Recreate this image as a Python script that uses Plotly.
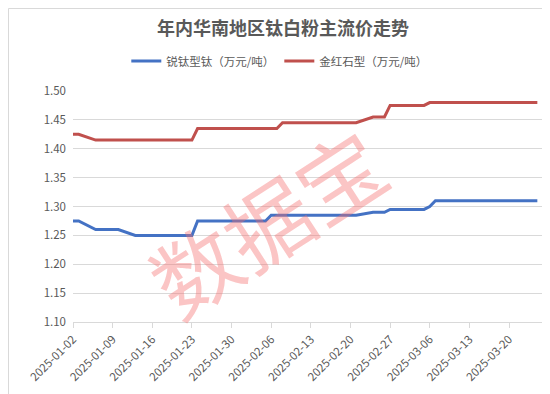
import plotly.graph_objects as go

dates = [
    "2025-01-02", "2025-01-03", "2025-01-06", "2025-01-07", "2025-01-08", "2025-01-09", "2025-01-10",
    "2025-01-13", "2025-01-14", "2025-01-15", "2025-01-16", "2025-01-17",
    "2025-01-20", "2025-01-21", "2025-01-22", "2025-01-23", "2025-01-24", "2025-01-26", "2025-01-27",
    "2025-02-05", "2025-02-06", "2025-02-07", "2025-02-08",
    "2025-02-10", "2025-02-11", "2025-02-12", "2025-02-13", "2025-02-14",
    "2025-02-17", "2025-02-18", "2025-02-19", "2025-02-20", "2025-02-21",
    "2025-02-24", "2025-02-25", "2025-02-26", "2025-02-27", "2025-02-28",
    "2025-03-03", "2025-03-04", "2025-03-05", "2025-03-06", "2025-03-07",
    "2025-03-10", "2025-03-11", "2025-03-12", "2025-03-13", "2025-03-14",
    "2025-03-17", "2025-03-18", "2025-03-19", "2025-03-20", "2025-03-21",
    "2025-03-24", "2025-03-25",
]

anatase = [
    1.275, 1.275, 1.26, 1.26, 1.26, 1.26, 1.26,
    1.25, 1.25, 1.25, 1.25, 1.25,
    1.25, 1.25, 1.25, 1.25, 1.275, 1.275, 1.275,
    1.275, 1.285, 1.285, 1.285,
    1.285, 1.285, 1.285, 1.285, 1.285,
    1.285, 1.285, 1.285, 1.285, 1.285,
    1.29, 1.29, 1.29, 1.295, 1.295,
    1.295, 1.295, 1.295, 1.30, 1.31,
    1.31, 1.31, 1.31, 1.31, 1.31,
    1.31, 1.31, 1.31, 1.31, 1.31,
    1.31, 1.31,
]

rutile = [
    1.425, 1.425, 1.415, 1.415, 1.415, 1.415, 1.415,
    1.415, 1.415, 1.415, 1.415, 1.415,
    1.415, 1.415, 1.415, 1.415, 1.435, 1.435, 1.435,
    1.435, 1.435, 1.435, 1.445,
    1.445, 1.445, 1.445, 1.445, 1.445,
    1.445, 1.445, 1.445, 1.445, 1.445,
    1.455, 1.455, 1.455, 1.475, 1.475,
    1.475, 1.475, 1.475, 1.48, 1.48,
    1.48, 1.48, 1.48, 1.48, 1.48,
    1.48, 1.48, 1.48, 1.48, 1.48,
    1.48, 1.48,
]

tick_dates = [
    "2025-01-02", "2025-01-09", "2025-01-16", "2025-01-23", "2025-01-30", "2025-02-06",
    "2025-02-13", "2025-02-20", "2025-02-27", "2025-03-06", "2025-03-13", "2025-03-20",
]
y_ticks = [1.10, 1.15, 1.20, 1.25, 1.30, 1.35, 1.40, 1.45, 1.50]

series_names = ["锐钛型钛（万元/吨）", "金红石型（万元/吨）"]
title_text = "年内华南地区钛白粉主流价走势"
watermark = "数据宝"

FONT = "Noto Sans CJK SC"
GREY = "#595959"
W, H = 550, 394
ML, MR, MT, MB = 65, 15, 83, 80
PW, PH = W - ML - MR, H - MT - MB

fig = go.Figure()
for name, vals, col in [(series_names[0], anatase, "#4472C4"), (series_names[1], rutile, "#C0504D")]:
    fig.add_trace(go.Scatter(
        x=dates, y=vals, name=name, mode="lines",
        line=dict(color=col, width=3),
    ))

fig.add_annotation(
    text=watermark, x=0.41, y=0.44, xref="paper", yref="paper",
    showarrow=False, textangle=-33,
    font=dict(family=FONT, size=86, color="rgba(245,110,110,0.4)"),
)

fig.add_shape(
    type="rect", xref="paper", yref="paper",
    x0=(-ML + 0.5) / PW, x1=(PW + MR - 0.5) / PW,
    y0=(-MB + 0.5) / PH, y1=(PH + MT - 0.5) / PH,
    line=dict(color="#d9d9d9", width=1), layer="below",
)

fig.update_layout(
    width=W, height=H,
    margin=dict(l=ML, r=MR, t=MT, b=MB),
    paper_bgcolor="white", plot_bgcolor="white",
    font=dict(family=FONT, size=11, color=GREY),
    title=dict(text=title_text, x=0.5, xanchor="center", y=1 - 21 / H, yanchor="middle",
               yref="container", xref="container",
               font=dict(family=FONT, size=18, color=GREY, weight="bold")),
    legend=dict(orientation="h", x=0.44, xanchor="center", y=1 + 30 / PH, yanchor="middle",
                font=dict(family=FONT, size=11.5, color=GREY), itemwidth=30,
                bgcolor="rgba(0,0,0,0)"),
    showlegend=True,
)

fig.update_xaxes(
    type="date", range=["2025-01-02", "2025-03-26"],
    tickvals=tick_dates, ticktext=tick_dates, tickangle=-45,
    showgrid=False, showline=True, linecolor="#d9d9d9", linewidth=1,
    ticks="outside", ticklen=5, tickcolor="#d9d9d9",
    tickfont=dict(family=FONT, size=11.5, color=GREY),
)
fig.update_yaxes(
    range=[1.10, 1.50], tickvals=y_ticks, ticktext=[f"{v:.2f}" for v in y_ticks],
    showgrid=True, gridcolor="#d9d9d9", gridwidth=1, zeroline=False,
    showline=False, ticks="", ticklabelstandoff=6,
    tickfont=dict(family=FONT, size=11.5, color=GREY),
)

fig.write_html("out.html")
